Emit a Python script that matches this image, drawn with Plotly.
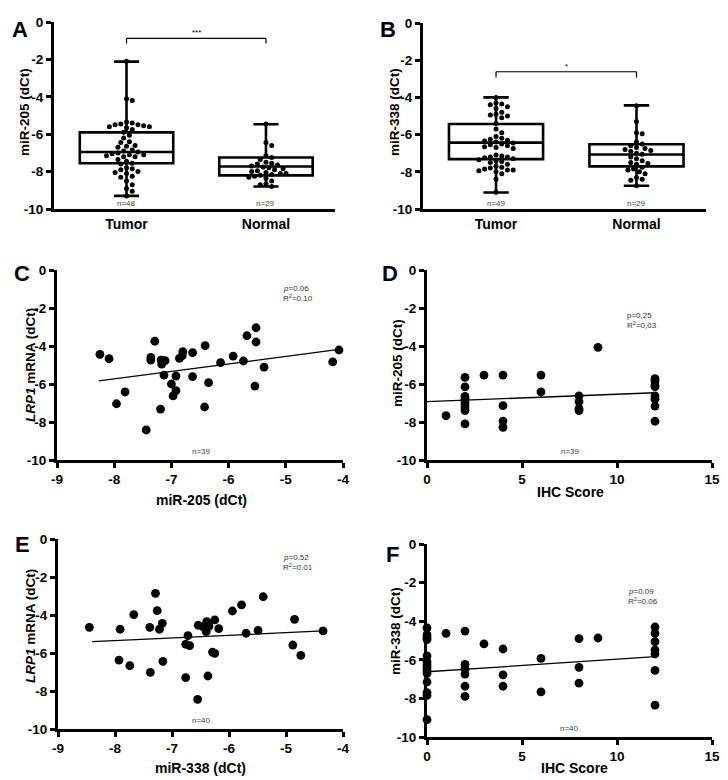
import plotly.graph_objects as go

W, H = 728, 780
FONT = "Liberation Sans, Arial, sans-serif"

# ---------------- data ----------------
groups = ["Tumor", "Normal"]
y_ticks = [0, -2, -4, -6, -8, -10]
y_ticktext = ["0", "-2", "-4", "-6", "-8", "-10"]
c_xticks = [-9, -8, -7, -6, -5, -4]
ihc_ticks = [0, 5, 10, 15]

# Panel A: miR-205 tumor vs normal
a_tumor = [-2.1, -4.1, -4.2,
           -5.35, -5.4, -5.45, -5.5, -5.5, -5.55, -5.6, -5.6, -5.65, -5.75,
           -5.9, -6.05, -6.2, -6.4, -6.45, -6.6, -6.65, -6.7,
           -6.85, -6.9, -6.95, -7.0, -7.05, -7.1, -7.1, -7.15, -7.2, -7.2,
           -7.35, -7.45, -7.55, -7.6,
           -7.8, -7.85, -7.9, -8.0, -8.05, -8.1, -8.25, -8.3,
           -8.5, -8.7, -8.9, -9.05, -9.3]
a_normal = [-5.45, -6.45, -6.6, -7.15, -7.25, -7.35, -7.5, -7.55, -7.6, -7.65,
            -7.7, -7.75, -7.8, -7.85, -7.9, -7.95, -8.0, -8.05, -8.1, -8.1,
            -8.15, -8.2, -8.25, -8.3, -8.35, -8.5, -8.65, -8.7, -8.8]
a_q1 = [-7.55, -8.2]
a_median = [-6.95, -7.73]
a_q3 = [-5.9, -7.25]
a_min = [-9.3, -8.8]
a_max = [-2.12, -5.47]
a_n = ["n=48", "n=29"]
a_sig = "***"

# Panel B: miR-338 tumor vs normal
b_tumor = [-4.0, -4.3, -4.35, -4.4, -4.5, -4.6, -4.8, -4.9, -4.95, -5.0, -5.1,
           -5.4, -5.7, -5.9, -6.1, -6.2, -6.25, -6.3, -6.35, -6.4, -6.45, -6.5,
           -6.55, -6.6, -6.65, -6.7, -6.75, -7.1, -7.15, -7.2, -7.2, -7.25, -7.3,
           -7.35, -7.4, -7.45, -7.5, -7.6, -7.7, -7.75, -7.8, -7.85, -7.9, -7.9,
           -7.95, -8.0, -8.1, -8.4, -9.1]
b_normal = [-4.45, -5.3, -5.9, -5.95, -6.4, -6.5, -6.6, -6.7, -6.75, -6.8,
            -6.85, -6.9, -7.0, -7.05, -7.2, -7.3, -7.4, -7.5, -7.55, -7.6,
            -7.75, -7.85, -7.9, -8.0, -8.1, -8.3, -8.4, -8.45, -8.75]
b_q1 = [-7.32, -7.71]
b_median = [-6.43, -7.07]
b_q3 = [-5.43, -6.52]
b_min = [-9.11, -8.75]
b_max = [-4.0, -4.43]
b_n = ["n=49", "n=29"]
b_sig = "*"

# Panel C: LRP1 mRNA vs miR-205
c_x = [-8.25, -8.09, -7.96, -7.81, -7.44, -7.29, -7.36, -7.36, -7.18, -7.11,
       -7.17, -7.13, -7.19, -7.0, -6.92, -6.92, -6.97, -6.86, -6.8, -6.81,
       -6.63, -6.63, -6.41, -6.35, -6.42, -6.14, -5.92, -5.74, -5.68, -5.52,
       -5.52, -5.54, -5.38, -4.18, -4.07]
c_y = [-4.44, -4.67, -7.04, -6.42, -8.42, -3.75, -4.6, -4.74, -4.74, -4.77,
       -4.95, -5.53, -7.32, -6.0, -5.58, -6.35, -6.63, -4.65, -4.3, -4.51,
       -4.35, -5.61, -3.98, -5.93, -7.21, -4.88, -4.53, -4.79, -3.46, -3.04,
       -3.79, -6.11, -5.11, -4.84, -4.21]
c_fit_x = [-8.27, -4.07]
c_fit_y = [-5.84, -4.18]
c_p, c_r2, c_n = "0.06", "0.10", "n=39"

# Panel D: miR-205 vs IHC score
d_x = [1, 2, 2, 2, 2, 2, 2, 2, 2, 2, 3, 4, 4, 4, 4, 6, 6, 8, 8, 8, 8, 9,
       12, 12, 12, 12, 12, 12, 12, 12]
d_y = [-7.67, -5.65, -6.15, -6.65, -6.8, -6.95, -7.1, -7.25, -7.4, -8.1,
       -5.53, -5.53, -7.14, -7.95, -8.28, -5.53, -6.42, -6.63, -6.93, -7.3,
       -7.4, -4.07, -5.72, -5.84, -6.05, -6.14, -6.63, -6.8, -7.16, -7.96]
d_fit_x = [0, 12]
d_fit_y = [-6.93, -6.46]
d_p, d_r2, d_n = "0,25", "0,03", "n=39"

# Panel E: LRP1 mRNA vs miR-338
e_x = [-8.45, -7.91, -7.93, -7.74, -7.67, -7.39, -7.38, -7.29, -7.26, -7.22,
       -7.17, -7.16, -6.76, -6.72, -6.69, -6.76, -6.55, -6.54, -6.46, -6.4,
       -6.39, -6.35, -6.37, -6.29, -6.25, -6.25, -6.18, -5.94, -5.78, -5.7,
       -5.49, -5.4, -4.88, -4.85, -4.74, -4.35]
e_y = [-4.65, -4.75, -6.37, -6.67, -3.98, -4.65, -7.02, -2.86, -3.77, -4.75,
       -4.44, -6.44, -5.54, -5.09, -5.61, -7.3, -8.44, -4.54, -4.61, -4.88,
       -4.35, -4.58, -7.21, -5.95, -6.02, -4.26, -4.72, -3.79, -3.47, -4.96,
       -4.81, -3.04, -5.58, -4.23, -6.12, -4.84]
e_fit_x = [-8.4, -4.35]
e_fit_y = [-5.4, -4.84]
e_p, e_r2, e_n = "0.52", "0.01", "n=40"

# Panel F: miR-338 vs IHC score
f_x = [0, 0, 0, 0, 0, 0, 0, 0, 0, 0, 0, 0, 0, 0, 1, 2, 2, 2, 2, 2, 2, 3,
       4, 4, 4, 6, 6, 8, 8, 8, 9, 12, 12, 12, 12, 12, 12, 12]
f_y = [-4.35, -4.7, -4.85, -4.95, -5.8, -6.1, -6.25, -6.4, -6.55, -6.7,
       -7.15, -7.7, -7.85, -9.1, -4.63, -4.51, -6.24, -6.46, -6.74, -7.37,
       -7.89, -5.18, -5.44, -6.78, -7.37, -5.93, -7.66, -4.9, -6.39, -7.21,
       -4.87, -4.3, -4.63, -5.06, -5.49, -5.7, -6.55, -8.35]
f_fit_x = [0, 12]
f_fit_y = [-6.62, -5.84]
f_p, f_r2, f_n = "0.09", "0.06", "n=40"


# ---------------- helpers ----------------
def fx(px):
    return px / W


def fy(py):
    return 1 - py / H


def swarm(vals, px_per_x, px_per_y, diam):
    """Deterministic beeswarm offsets (in x data units)."""
    placed = []
    res = [0.0] * len(vals)
    order = sorted(range(len(vals)), key=lambda i: -vals[i])
    step = diam * 0.55
    for i in order:
        yv = vals[i] * px_per_y
        k = 0
        chosen = None
        while chosen is None:
            cands = [0.0] if k == 0 else [k * step, -k * step]
            for c in cands:
                if all((c - p) ** 2 + (yv - q) ** 2 >= (diam * 0.95) ** 2 for p, q in placed):
                    chosen = c
                    break
            k += 1
        placed.append((chosen, yv))
        res[i] = chosen / px_per_x
    return res


# panel pixel boxes: (x0, x1, ytop, ybottom)
boxes = {
    "A": (54, 335, 22, 209),
    "B": (423, 706, 23, 209),
    "C": (57, 343, 270, 460),
    "D": (427, 712, 270, 460),
    "E": (58, 343, 539, 729),
    "F": (427, 712, 544, 737),
}
names = ["A", "B", "C", "D", "E", "F"]

fig = go.Figure()

tickfont = dict(family=FONT, size=13.5, color="black", weight="bold")
axline = dict(showline=True, linewidth=3, linecolor="black", showgrid=False,
              zeroline=False, ticks="outside", ticklen=5, tickwidth=2.5,
              tickcolor="black", tickfont=tickfont, fixedrange=True,
              automargin=False)

layout_axes = {}
for idx, nm in enumerate(names):
    x0, x1, yt, yb = boxes[nm]
    suf = "" if idx == 0 else str(idx + 1)
    xa = dict(axline, domain=[fx(x0), fx(x1)], anchor="y" + suf)
    ya = dict(axline, domain=[fy(yb), fy(yt)], anchor="x" + suf,
              range=[-10, 0], tickvals=y_ticks, ticktext=y_ticktext)
    if nm in ("A", "B"):
        xa.update(range=[-0.52, 1.495], tickvals=[0, 1], ticktext=groups,
                  ticks="", tickfont=dict(family=FONT, size=14, color="black", weight="bold"))
    elif nm in ("C", "E"):
        xa.update(range=[-9, -4], tickvals=c_xticks, ticktext=[str(v) for v in c_xticks])
    else:
        xa.update(range=[0, 15], tickvals=ihc_ticks)
    layout_axes["xaxis" + suf] = xa
    layout_axes["yaxis" + suf] = ya

annotations = []
shapes = []


def add_box_panel(nm, suf, tumor, normal, q1, med, q3, lo, hi, ns, sig, bracket_y, tick_y):
    x0, x1, yt, yb = boxes[nm]
    pxx = (x1 - x0) / 2.015
    pxy = (yb - yt) / 10.0
    fig.add_trace(go.Box(
        x=[0, 1], q1=q1, median=med, q3=q3, lowerfence=lo, upperfence=hi,
        width=0.67, whiskerwidth=0.27, fillcolor="white",
        line=dict(color="black", width=2.6), boxpoints=False,
        xaxis="x" + suf, yaxis="y" + suf, showlegend=False, hoverinfo="skip"))
    for gi, vals in enumerate([tumor, normal]):
        offs = swarm(vals, pxx, pxy, 5.2)
        fig.add_trace(go.Scatter(
            x=[gi + o for o in offs], y=vals, mode="markers",
            marker=dict(color="black", size=5), cliponaxis=False,
            xaxis="x" + suf, yaxis="y" + suf, showlegend=False))
        annotations.append(dict(x=gi, y=-9.68, xref="x" + suf, yref="y" + suf,
                                text=ns[gi], showarrow=False,
                                xanchor="center", yanchor="middle",
                                font=dict(family=FONT, size=8, color="#444")))
    xr = "x" + suf
    yr = "y" + suf
    for seg in ([0, tick_y, 0, bracket_y], [0, bracket_y, 1, bracket_y], [1, bracket_y, 1, tick_y]):
        shapes.append(dict(type="line", xref=xr, yref=yr, x0=seg[0], y0=seg[1],
                           x1=seg[2], y1=seg[3], line=dict(color="black", width=1.2)))
    annotations.append(dict(x=0.5, y=bracket_y, xref=xr, yref=yr, text=sig,
                            showarrow=False, xanchor="center", yanchor="bottom", yshift=-1,
                            font=dict(family=FONT, size=8, color="black")))


add_box_panel("A", "", a_tumor, a_normal, a_q1, a_median, a_q3, a_min, a_max,
              a_n, a_sig, -0.88, -1.15)
add_box_panel("B", "2", b_tumor, b_normal, b_q1, b_median, b_q3, b_min, b_max,
              b_n, b_sig, -2.62, -2.93)


def add_scatter_panel(suf, xs, ys, fitx, fity, p, r2, n, p_italic, stat_x, stat_y, stat_dy, n_x):
    fig.add_trace(go.Scatter(x=xs, y=ys, mode="markers",
                             marker=dict(color="black", size=8.8), cliponaxis=False,
                             xaxis="x" + suf, yaxis="y" + suf, showlegend=False))
    fig.add_trace(go.Scatter(x=fitx, y=fity, mode="lines",
                             line=dict(color="black", width=1.3),
                             xaxis="x" + suf, yaxis="y" + suf, showlegend=False))
    ptxt = ("<i>p</i>" if p_italic else "p") + "=" + p
    annotations.append(dict(x=stat_x, y=stat_y, xref="x" + suf, yref="y" + suf,
                            text=ptxt, showarrow=False, xanchor="left", yanchor="middle",
                            font=dict(family=FONT, size=8, color="#333")))
    annotations.append(dict(x=stat_x, y=stat_y - stat_dy, xref="x" + suf, yref="y" + suf,
                            text="R<sup>2</sup>=" + r2, showarrow=False, xanchor="left",
                            yanchor="middle",
                            font=dict(family=FONT, size=8, color="#333")))
    annotations.append(dict(x=n_x, y=-9.56, xref="x" + suf, yref="y" + suf,
                            text=n, showarrow=False, xanchor="center", yanchor="middle",
                            font=dict(family=FONT, size=8, color="#444")))


add_scatter_panel("3", c_x, c_y, c_fit_x, c_fit_y, c_p, c_r2, c_n, True, -5.08, -0.95, 0.5, -6.47)
add_scatter_panel("4", d_x, d_y, d_fit_x, d_fit_y, d_p, d_r2, d_n, False, 10.4, -2.37, 0.52, 7.56)
add_scatter_panel("5", e_x, e_y, e_fit_x, e_fit_y, e_p, e_r2, e_n, True, -5.08, -0.96, 0.5, -6.48)
add_scatter_panel("6", f_x, f_y, f_fit_x, f_fit_y, f_p, f_r2, f_n, True, 10.45, -2.47, 0.5, 7.5)


def paper_text(text, px, py, size, angle=0):
    annotations.append(dict(x=fx(px), y=fy(py), xref="paper", yref="paper",
                            text=text, showarrow=False, textangle=angle,
                            xanchor="center", yanchor="middle",
                            font=dict(family=FONT, size=size, color="black")))


# panel letters
letters = {"A": (19.5, 29.5), "B": (387.5, 30), "C": (21.5, 273.5),
           "D": (389.5, 273.5), "E": (22.5, 544.5), "F": (392.5, 554.5)}
for k, (px, py) in letters.items():
    paper_text("<b>%s</b>" % k, px, py, 22)

# y-axis titles
ytitles = [("miR-205 (dCt)", 25, 112), ("miR-338 (dCt)", 395, 112),
           ("<i>LRP1</i> mRNA (dCt)", 30, 365), ("miR-205 (dCt)", 397, 363),
           ("<i>LRP1</i> mRNA (dCt)", 30, 626), ("miR-338 (dCt)", 395, 631)]
for t, px, py in ytitles:
    paper_text("<b>%s</b>" % t, px, py, 13.5, angle=-90)

# x-axis titles
xtitles = [("miR-205 (dCt)", 201, 500), ("IHC Score", 570, 492),
           ("miR-338 (dCt)", 200, 768), ("IHC Score", 574, 768)]
for t, px, py in xtitles:
    paper_text("<b>%s</b>" % t, px, py, 14)

fig.update_layout(
    width=W, height=H, autosize=False,
    margin=dict(l=0, r=0, t=0, b=0),
    paper_bgcolor="white", plot_bgcolor="white",
    showlegend=False,
    annotations=annotations, shapes=shapes,
    **layout_axes)

fig.write_html("out.html", config={"displayModeBar": False},
               post_script="document.body.style.margin='0';document.body.style.overflow='hidden';")
